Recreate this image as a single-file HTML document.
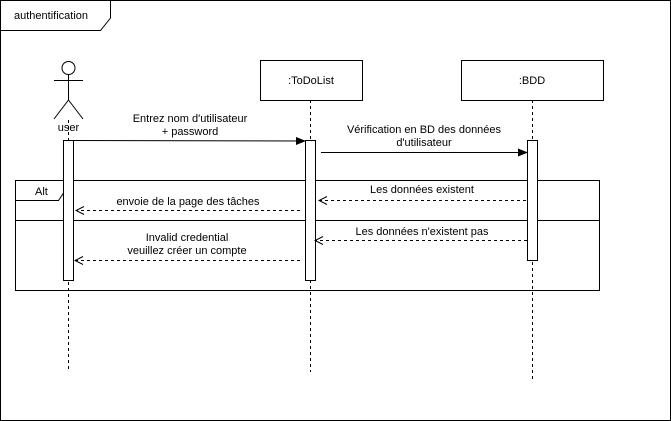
<!DOCTYPE html>
<html><head><style>body{margin:0;background:#fff}svg{display:block}text{font-family:"Liberation Sans",Arial,sans-serif;font-size:11px;fill:#000}</style></head><body>
<svg width="671" height="421" viewBox="0 0 671 421" xmlns="http://www.w3.org/2000/svg">
<defs>
<marker id="f" markerWidth="10" markerHeight="8" refX="9" refY="4" orient="auto" markerUnits="userSpaceOnUse"><path d="M0,0 L10,4 L0,8 Z" fill="#000"/></marker>
<marker id="o" markerWidth="10" markerHeight="10" refX="9" refY="5" orient="auto" markerUnits="userSpaceOnUse"><path d="M1,1 L9,5 L1,9" fill="none" stroke="#000"/></marker>
</defs>
<rect x="0.5" y="0.5" width="670" height="420" fill="#fff" stroke="#000"/>
<path d="M0.5,30.5 H100.5 L110.5,18 V0.5" fill="none" stroke="#000"/>
<text x="14" y="19" font-size="12">authentification</text>
<!-- actor -->
<circle cx="68.5" cy="68" r="6.5" fill="#fff" stroke="#000"/>
<path d="M68.5,74.5 V100 M54,80.5 H83 M68.5,100 L54,119 M68.5,100 L83,119" stroke="#000" fill="none"/>
<text x="68.5" y="131" text-anchor="middle">user</text>
<!-- lifelines -->
<path d="M68.5,120 V372 M310.5,100 V372 M532.5,100 V380" stroke="#000" stroke-dasharray="3,3"/>
<rect x="260.5" y="60.5" width="102" height="40" fill="#fff" stroke="#000"/>
<text x="311" y="84" text-anchor="middle" font-size="12">:ToDoList</text>
<rect x="461.5" y="60.5" width="142" height="40" fill="#fff" stroke="#000"/>
<text x="532" y="84" text-anchor="middle" font-size="12">:BDD</text>
<!-- alt frame -->
<rect x="15.5" y="180.5" width="584" height="110" fill="none" stroke="#000"/>
<path d="M15.5,200.5 H58.5 L63.5,193" fill="none" stroke="#000"/>
<text x="35" y="195" font-size="12">Alt</text>
<line x1="15.5" y1="220.5" x2="599.5" y2="220.5" stroke="#000"/>
<!-- activations -->
<rect x="63.5" y="140.5" width="10" height="140" fill="#fff" stroke="#000"/>
<rect x="305.5" y="140.5" width="10" height="140" fill="#fff" stroke="#000"/>
<rect x="527.5" y="140.5" width="10" height="120" fill="#fff" stroke="#000"/>
<!-- messages -->
<line x1="73.5" y1="140.5" x2="305" y2="141" stroke="#000" marker-end="url(#f)"/>
<text x="190" y="122" text-anchor="middle">Entrez nom d'utilisateur</text>
<text x="190" y="135" text-anchor="middle">+ password</text>
<line x1="321" y1="152.5" x2="527" y2="152.5" stroke="#000" marker-end="url(#f)"/>
<text x="424" y="133" text-anchor="middle">Vérification en BD des données</text>
<text x="424" y="146" text-anchor="middle">d'utilisateur</text>
<line x1="526" y1="200.5" x2="319" y2="200.5" stroke="#000" stroke-dasharray="3,3" marker-end="url(#o)"/>
<text x="422" y="193" text-anchor="middle">Les données existent</text>
<line x1="300" y1="210.5" x2="76" y2="210.5" stroke="#000" stroke-dasharray="3,3" marker-end="url(#o)"/>
<text x="188" y="205" text-anchor="middle">envoie de la page des tâches</text>
<line x1="527" y1="240.5" x2="315" y2="240.5" stroke="#000" stroke-dasharray="3,3" marker-end="url(#o)"/>
<text x="422" y="235" text-anchor="middle">Les données n'existent pas</text>
<line x1="300" y1="260.5" x2="75" y2="260.5" stroke="#000" stroke-dasharray="3,3" marker-end="url(#o)"/>
<text x="187" y="241" text-anchor="middle">Invalid credential</text>
<text x="187" y="254" text-anchor="middle">veuillez créer un compte</text>
</svg>
</body></html>
